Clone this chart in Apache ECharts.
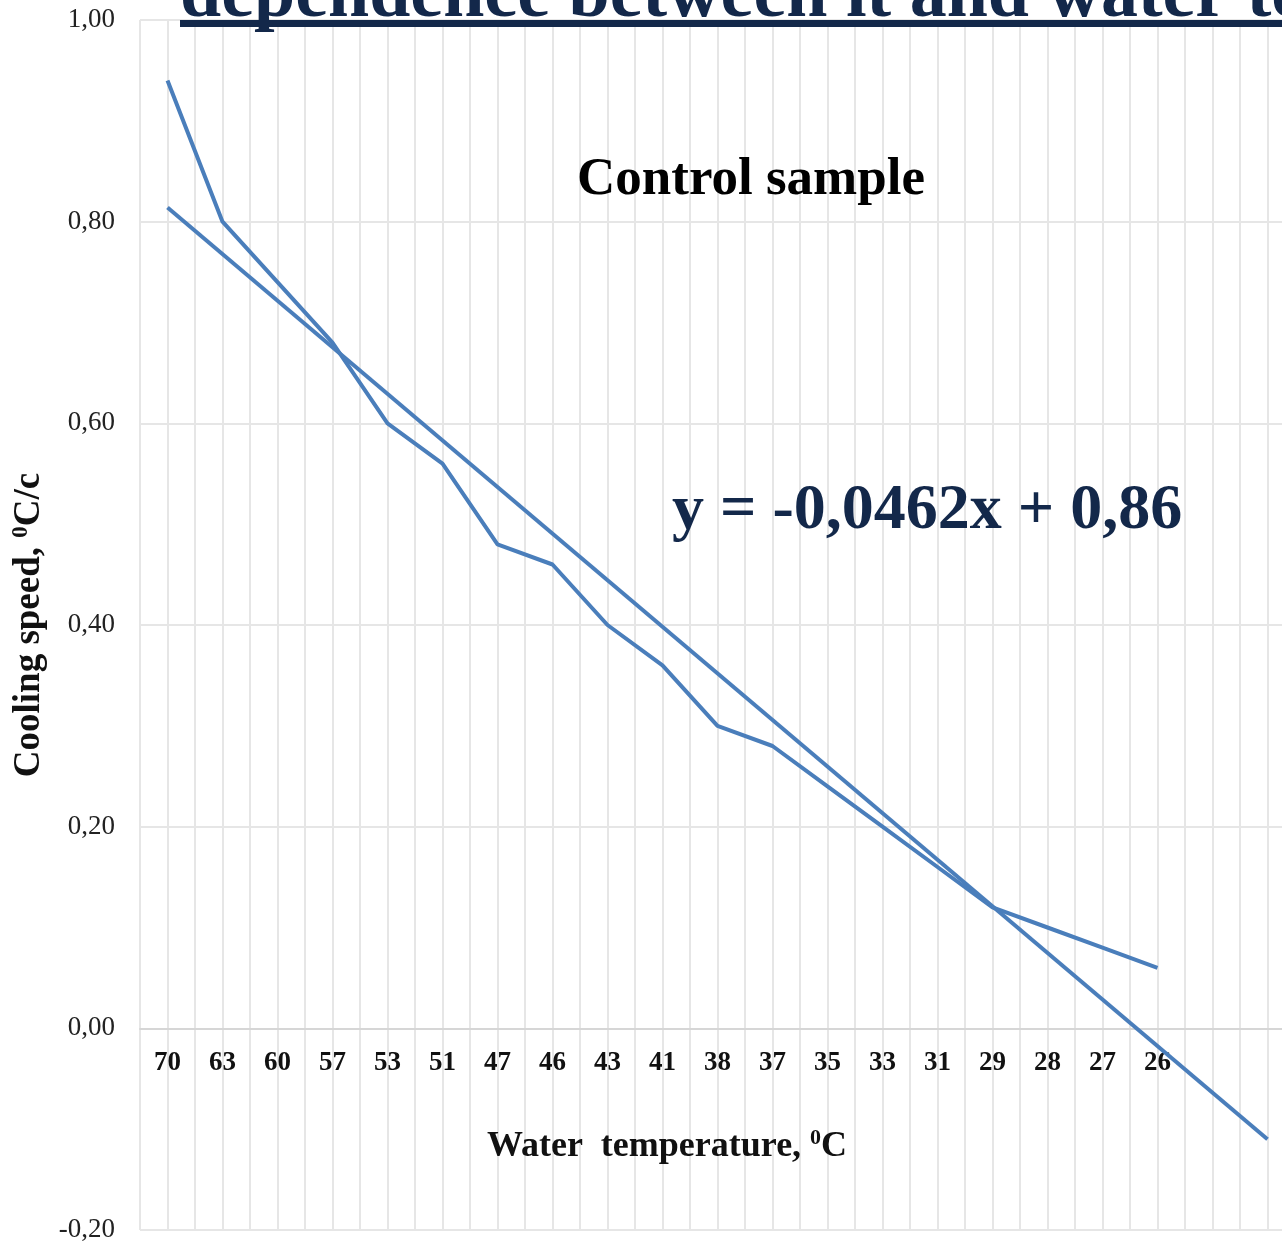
<!DOCTYPE html>
<html>
<head>
<meta charset="utf-8">
<script src="https://cdn.jsdelivr.net/npm/echarts@6/dist/echarts.min.js"></script>
<style>
  html, body { margin: 0; padding: 0; background: #fff; }
  #chart { width: 1282px; height: 1245px; }
</style>
</head>
<body>
<div id="chart"></div>
<script>
// water temperature categories (two empty slots at the end for the trend line)
const tempLabels = ["70", "63", "60", "57", "53", "51", "47", "46", "43", "41", "38", "37", "35", "33", "31", "29", "28", "27", "26", "", ""]
const coolingSpeed = [0.94, 0.80, 0.74, 0.68, 0.60, 0.56, 0.48, 0.46, 0.40, 0.36, 0.30, 0.28, 0.24, 0.20, 0.16, 0.12, 0.10, 0.08, 0.06]
// linear trend, end points: [category index, value]
const trendEnds = [[0, 0.814], [20, -0.11]]
const yTicks = { min: -0.2, max: 1.0, interval: 0.2 }

const serif = "'Liberation Serif', 'Times New Roman', serif"
const lineBlue = "#4a7ebb"
const navy = "#13284a"
const gridGray = "#e6e6e6"

const W = 1282
const H = 1245
const gridTop = 20
const gridBottom = 15
// the category axis sits on y = 0, like the spreadsheet original
const zeroOffset = -(H - gridTop - gridBottom) * (0 - yTicks.min) / (yTicks.max - yTicks.min)

const chart = echarts.init(document.getElementById("chart"))

const option = {
    backgroundColor: "#fff",
    animation: false,
    title: [
        {
            text: "dependence between it and water temperature",
            left: 180,
            top: -43,
            padding: 0,
            textAlign: "left",
            textStyle: { fontFamily: serif, fontWeight: "bold", fontSize: 74, lineHeight: 80, color: navy },
        },
        {
            text: "Control sample",
            left: 751,
            top: 150,
            padding: 0,
            textAlign: "center",
            textStyle: { fontFamily: serif, fontWeight: "bold", fontSize: 53, lineHeight: 60, color: "#000" },
        },
        {
            text: "y = -0,0462x + 0,86",
            left: 672,
            top: 481,
            padding: 0,
            textAlign: "left",
            textStyle: { fontFamily: serif, fontWeight: "bold", fontSize: 64, lineHeight: 60, color: navy },
        },
        {
            text: "{t|Water  temperature, }{s|0}{t|C}",
            left: 667,
            top: 1127,
            padding: 0,
            textAlign: "center",
            textStyle: {
                rich: {
                    t: { fontFamily: serif, fontWeight: "bold", fontSize: 36, color: "#111", lineHeight: 40 },
                    s: { fontFamily: serif, fontWeight: "bold", fontSize: 22, color: "#111", lineHeight: 40, verticalAlign: "top", padding: [0, 0, 14, 0] },
                },
            },
        },
    ],
    graphic: [
        {
            // underline of the cut-off heading
            type: "rect",
            z: 100,
            shape: { x: 180, y: 20, width: 1110, height: 7 },
            style: { fill: navy },
        },
    ],
    grid: {
        left: 140,
        right: -13,
        top: gridTop,
        bottom: gridBottom,
        containLabel: false,
        outerBoundsMode: "none",
    },
    xAxis: [
        {
            type: "category",
            data: tempLabels,
            boundaryGap: true,
            position: "bottom",
            offset: zeroOffset,
            axisLine: { onZero: false, lineStyle: { color: "#d6d6d6", width: 2 } },
            axisTick: { show: false },
            splitLine: { show: false },
            axisLabel: {
                margin: 21,
                interval: 0,
                fontFamily: serif,
                fontWeight: "bold",
                fontSize: 27,
                color: "#111",
            },
        },
        {
            // only used for the dense vertical grid (band edges + centres)
            type: "value",
            min: 0,
            max: tempLabels.length,
            interval: 0.5,
            position: "top",
            axisLine: { show: false, onZero: false },
            axisTick: { show: false },
            axisLabel: { show: false },
            splitLine: { show: true, lineStyle: { color: gridGray, width: 2 } },
        },
    ],
    yAxis: {
        type: "value",
        min: yTicks.min,
        max: yTicks.max,
        interval: yTicks.interval,
        axisLine: { show: false, onZero: false },
        axisTick: { show: false },
        splitLine: { lineStyle: { color: gridGray, width: 2 } },
        axisLabel: {
            margin: 25,
            fontFamily: serif,
            fontSize: 27,
            color: "#222",
            formatter: (v) => v.toFixed(2).replace(".", ","),
        },
        name: "{t|Cooling speed, }{s|0}{t|C/c}",
        nameLocation: "middle",
        nameGap: 87,
        nameTextStyle: {
            rich: {
                t: { fontFamily: serif, fontWeight: "bold", fontSize: 37, color: "#111", lineHeight: 40 },
                s: { fontFamily: serif, fontWeight: "bold", fontSize: 23, color: "#111", lineHeight: 40, verticalAlign: "top", padding: [0, 0, 14, 0] },
            },
        },
    },
    series: [
        {
            name: "Cooling speed",
            type: "line",
            xAxisIndex: 0,
            data: coolingSpeed,
            showSymbol: false,
            lineStyle: { width: 4, color: lineBlue },
            itemStyle: { color: lineBlue },
            z: 3,
        },
        {
            name: "Linear trend",
            type: "line",
            xAxisIndex: 0,
            data: trendEnds,
            showSymbol: false,
            lineStyle: { width: 4, color: lineBlue },
            itemStyle: { color: lineBlue },
            z: 3,
        },
    ],
}

chart.setOption(option)

window.addEventListener("resize", () => chart.resize())
</script>
</body>
</html>
